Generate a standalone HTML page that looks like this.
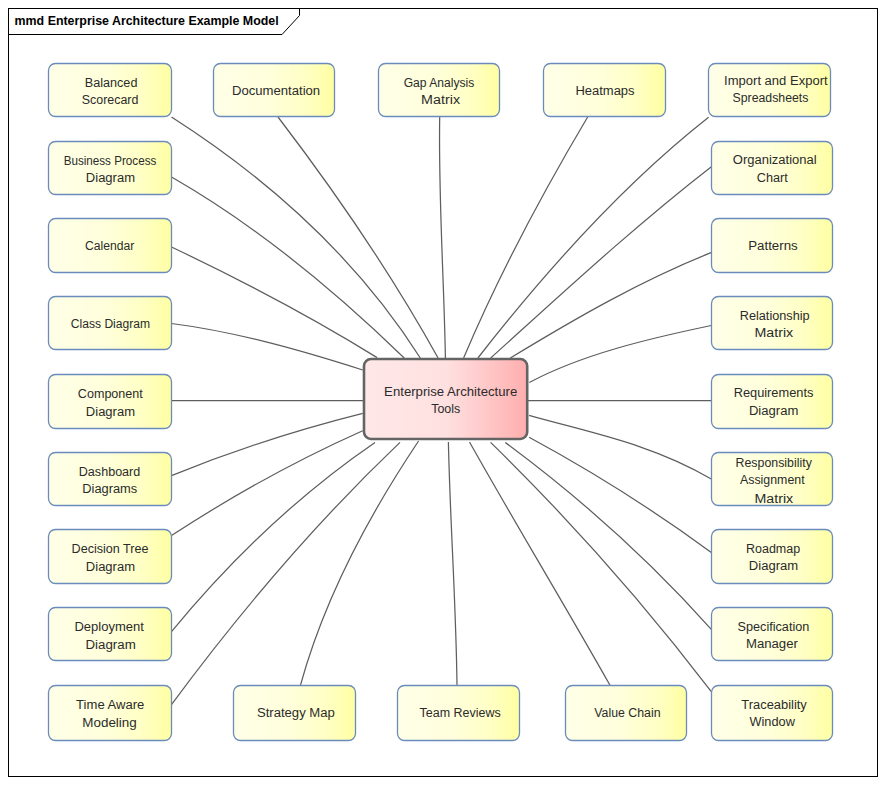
<!DOCTYPE html>
<html><head><meta charset="utf-8"><style>
html,body{margin:0;padding:0;background:#fff;width:886px;height:785px;overflow:hidden}
svg{display:block}
text{font-family:"Liberation Sans",sans-serif}
</style></head><body>
<svg width="886" height="785" viewBox="0 0 886 785">
<defs>
<linearGradient id="gy" x1="0" y1="0" x2="1" y2="0">
<stop offset="0" stop-color="#FFFFE8"/><stop offset="0.45" stop-color="#FFFFDC"/><stop offset="0.75" stop-color="#FFFFC6"/><stop offset="1" stop-color="#FFFFA2"/>
</linearGradient>
<linearGradient id="gr" x1="0" y1="0" x2="1" y2="0">
<stop offset="0" stop-color="#FFE8E8"/><stop offset="0.5" stop-color="#FFE0E0"/><stop offset="0.7" stop-color="#FFCDCD"/><stop offset="1" stop-color="#FFAEAE"/>
</linearGradient>
</defs>
<rect x="0" y="0" width="886" height="785" fill="#fff"/>
<rect x="8.5" y="8.5" width="869" height="768" fill="none" stroke="#000" stroke-width="1"/>
<polyline points="8.5,34.5 282,34.5 299.5,15.5 299.5,8.5" fill="none" stroke="#000" stroke-width="1"/>
<text x="14.58" y="24.80" font-size="12.2" font-weight="bold" fill="#000" textLength="264.09" lengthAdjust="spacingAndGlyphs">mmd Enterprise Architecture Example Model</text>
<g fill="none" stroke="#5E5E5E" stroke-width="1.25">
<path d="M171.5,117.0 C272.1,181.4 359.1,261.7 420.3,358.0"/>
<path d="M171.5,177.0 C258.3,226.7 338.2,293.9 404.2,358.0"/>
<path d="M171.5,247.0 C246.3,282.5 311.9,317.1 377.1,357.6"/>
<path d="M171.5,323.5 C236.2,331.8 300.6,350.2 362.7,370.0"/>
<path d="M171.5,400.5 C235.7,400.5 299.8,400.5 364.0,400.5"/>
<path d="M171.5,475.6 C233.8,450.2 297.9,429.7 362.7,413.4"/>
<path d="M171.5,535.6 C233.0,495.3 296.0,460.4 362.7,430.7"/>
<path d="M171.1,632.1 C230.4,560.2 297.4,495.5 375.0,442.4"/>
<path d="M171.1,705.1 C240.4,611.3 314.6,523.6 400.0,442.4"/>
<path d="M300.4,685.4 C323.8,600.2 369.1,514.9 418.6,441.0"/>
<path d="M278.0,117.0 C339.1,196.9 392.4,275.7 438.1,358.0"/>
<path d="M439.7,116.4 C438.3,197.5 444.0,277.6 445.4,358.0"/>
<path d="M587.8,116.8 C535.6,204.7 497.3,278.4 463.6,358.0"/>
<path d="M708.6,117.3 C622.8,184.7 546.3,270.3 477.9,358.0"/>
<path d="M711.7,166.4 C634.4,226.3 563.2,292.5 490.7,358.0"/>
<path d="M711.6,252.4 C639.8,281.1 574.5,319.0 510.3,358.0"/>
<path d="M711.3,325.5 C649.7,338.4 582.1,354.2 529.3,382.5"/>
<path d="M711.5,400.5 C650.3,400.5 589.2,400.5 528.0,400.5"/>
<path d="M711.3,479.0 C651.3,443.9 591.8,433.1 529.1,415.4"/>
<path d="M711.3,552.4 C653.6,510.1 593.6,472.2 529.1,437.3"/>
<path d="M711.3,629.4 C655.6,566.9 584.9,501.4 505.3,442.5"/>
<path d="M711.3,691.6 C646.6,607.0 572.1,521.9 490.6,442.4"/>
<path d="M457.0,685.5 C456.1,603.8 450.1,523.0 448.4,442.0"/>
<path d="M610.0,685.3 C564.1,604.0 515.7,524.2 469.5,442.0"/>
</g>
<g fill="url(#gy)" stroke="#6A8BBB" stroke-width="1.3">
<rect x="48.5" y="63.5" width="123.0" height="53.0" rx="7" ry="7"/>
<rect x="48.5" y="141.5" width="123.0" height="53.0" rx="7" ry="7"/>
<rect x="48.5" y="218.5" width="123.0" height="54.0" rx="7" ry="7"/>
<rect x="48.5" y="296.5" width="123.0" height="53.0" rx="7" ry="7"/>
<rect x="48.5" y="374.5" width="123.0" height="54.0" rx="7" ry="7"/>
<rect x="48.5" y="452.5" width="123.0" height="53.0" rx="7" ry="7"/>
<rect x="48.5" y="529.5" width="123.0" height="54.0" rx="7" ry="7"/>
<rect x="48.5" y="607.5" width="123.0" height="53.0" rx="7" ry="7"/>
<rect x="48.5" y="685.5" width="123.0" height="55.0" rx="7" ry="7"/>
<rect x="711.5" y="141.5" width="121.0" height="53.0" rx="7" ry="7"/>
<rect x="711.5" y="218.5" width="121.0" height="54.0" rx="7" ry="7"/>
<rect x="711.5" y="296.5" width="121.0" height="53.0" rx="7" ry="7"/>
<rect x="711.5" y="374.5" width="121.0" height="54.0" rx="7" ry="7"/>
<rect x="711.5" y="452.5" width="121.0" height="53.0" rx="7" ry="7"/>
<rect x="711.5" y="529.5" width="121.0" height="54.0" rx="7" ry="7"/>
<rect x="711.5" y="607.5" width="121.0" height="53.0" rx="7" ry="7"/>
<rect x="711.5" y="685.5" width="121.0" height="55.0" rx="7" ry="7"/>
<rect x="213.5" y="63.5" width="121.0" height="53.0" rx="7" ry="7"/>
<rect x="378.5" y="63.5" width="121.0" height="53.0" rx="7" ry="7"/>
<rect x="543.5" y="63.5" width="122.0" height="53.0" rx="7" ry="7"/>
<rect x="708.5" y="63.5" width="122.0" height="53.0" rx="7" ry="7"/>
<rect x="233.5" y="685.5" width="122.0" height="55.0" rx="7" ry="7"/>
<rect x="397.5" y="685.5" width="122.0" height="55.0" rx="7" ry="7"/>
<rect x="565.5" y="685.5" width="121.0" height="55.0" rx="7" ry="7"/>
</g>
<rect x="364" y="359" width="163.2" height="80" rx="7" ry="7" fill="url(#gr)" stroke="#646464" stroke-width="2.6"/>
<text x="84.76" y="86.50" font-size="12.5" fill="#2B2B2B" textLength="52.65" lengthAdjust="spacingAndGlyphs">Balanced</text>
<text x="81.74" y="103.60" font-size="12.5" fill="#2B2B2B" textLength="56.67" lengthAdjust="spacingAndGlyphs">Scorecard</text>
<text x="63.64" y="165.00" font-size="12.5" fill="#2B2B2B" textLength="92.68" lengthAdjust="spacingAndGlyphs">Business Process</text>
<text x="85.83" y="181.70" font-size="12.5" fill="#2B2B2B" textLength="49.23" lengthAdjust="spacingAndGlyphs">Diagram</text>
<text x="85.08" y="249.70" font-size="12.5" fill="#2B2B2B" textLength="49.32" lengthAdjust="spacingAndGlyphs">Calendar</text>
<text x="70.79" y="328.00" font-size="12.5" fill="#2B2B2B" textLength="79.31" lengthAdjust="spacingAndGlyphs">Class Diagram</text>
<text x="77.86" y="397.90" font-size="12.5" fill="#2B2B2B" textLength="64.93" lengthAdjust="spacingAndGlyphs">Component</text>
<text x="85.83" y="415.70" font-size="12.5" fill="#2B2B2B" textLength="49.23" lengthAdjust="spacingAndGlyphs">Diagram</text>
<text x="78.77" y="475.70" font-size="12.5" fill="#2B2B2B" textLength="61.54" lengthAdjust="spacingAndGlyphs">Dashboard</text>
<text x="82.25" y="492.80" font-size="12.5" fill="#2B2B2B" textLength="55.02" lengthAdjust="spacingAndGlyphs">Diagrams</text>
<text x="71.58" y="552.50" font-size="12.5" fill="#2B2B2B" textLength="76.88" lengthAdjust="spacingAndGlyphs">Decision Tree</text>
<text x="85.83" y="570.70" font-size="12.5" fill="#2B2B2B" textLength="49.23" lengthAdjust="spacingAndGlyphs">Diagram</text>
<text x="74.43" y="630.80" font-size="12.5" fill="#2B2B2B" textLength="69.46" lengthAdjust="spacingAndGlyphs">Deployment</text>
<text x="85.51" y="648.60" font-size="12.5" fill="#2B2B2B" textLength="50.27" lengthAdjust="spacingAndGlyphs">Diagram</text>
<text x="76.11" y="708.60" font-size="12.5" fill="#2B2B2B" textLength="68.26" lengthAdjust="spacingAndGlyphs">Time Aware</text>
<text x="82.30" y="726.50" font-size="12.5" fill="#2B2B2B" textLength="54.47" lengthAdjust="spacingAndGlyphs">Modeling</text>
<text x="231.92" y="94.90" font-size="12.5" fill="#2B2B2B" textLength="88.23" lengthAdjust="spacingAndGlyphs">Documentation</text>
<text x="403.70" y="87.00" font-size="12.5" fill="#2B2B2B" textLength="70.64" lengthAdjust="spacingAndGlyphs">Gap Analysis</text>
<text x="421.13" y="103.60" font-size="12.5" fill="#2B2B2B" textLength="38.93" lengthAdjust="spacingAndGlyphs">Matrix</text>
<text x="575.44" y="94.60" font-size="12.5" fill="#2B2B2B" textLength="59.13" lengthAdjust="spacingAndGlyphs">Heatmaps</text>
<text x="724.10" y="84.80" font-size="12.5" fill="#2B2B2B" textLength="103.50" lengthAdjust="spacingAndGlyphs">Import and Export</text>
<text x="732.54" y="102.30" font-size="12.5" fill="#2B2B2B" textLength="75.90" lengthAdjust="spacingAndGlyphs">Spreadsheets</text>
<text x="732.88" y="164.30" font-size="12.5" fill="#2B2B2B" textLength="83.78" lengthAdjust="spacingAndGlyphs">Organizational</text>
<text x="756.86" y="181.50" font-size="12.5" fill="#2B2B2B" textLength="30.94" lengthAdjust="spacingAndGlyphs">Chart</text>
<text x="748.21" y="249.60" font-size="12.5" fill="#2B2B2B" textLength="49.57" lengthAdjust="spacingAndGlyphs">Patterns</text>
<text x="739.76" y="319.70" font-size="12.5" fill="#2B2B2B" textLength="69.87" lengthAdjust="spacingAndGlyphs">Relationship</text>
<text x="754.53" y="337.20" font-size="12.5" fill="#2B2B2B" textLength="38.72" lengthAdjust="spacingAndGlyphs">Matrix</text>
<text x="733.65" y="397.30" font-size="12.5" fill="#2B2B2B" textLength="79.71" lengthAdjust="spacingAndGlyphs">Requirements</text>
<text x="748.93" y="415.20" font-size="12.5" fill="#2B2B2B" textLength="49.44" lengthAdjust="spacingAndGlyphs">Diagram</text>
<text x="735.59" y="466.80" font-size="12.5" fill="#2B2B2B" textLength="76.24" lengthAdjust="spacingAndGlyphs">Responsibility</text>
<text x="739.98" y="484.40" font-size="12.5" fill="#2B2B2B" textLength="64.61" lengthAdjust="spacingAndGlyphs">Assignment</text>
<text x="754.54" y="502.90" font-size="12.5" fill="#2B2B2B" textLength="38.62" lengthAdjust="spacingAndGlyphs">Matrix</text>
<text x="745.98" y="552.90" font-size="12.5" fill="#2B2B2B" textLength="54.15" lengthAdjust="spacingAndGlyphs">Roadmap</text>
<text x="748.83" y="570.40" font-size="12.5" fill="#2B2B2B" textLength="49.33" lengthAdjust="spacingAndGlyphs">Diagram</text>
<text x="737.52" y="630.70" font-size="12.5" fill="#2B2B2B" textLength="71.80" lengthAdjust="spacingAndGlyphs">Specification</text>
<text x="745.92" y="648.20" font-size="12.5" fill="#2B2B2B" textLength="52.00" lengthAdjust="spacingAndGlyphs">Manager</text>
<text x="741.31" y="708.60" font-size="12.5" fill="#2B2B2B" textLength="65.51" lengthAdjust="spacingAndGlyphs">Traceability</text>
<text x="749.44" y="726.00" font-size="12.5" fill="#2B2B2B" textLength="45.42" lengthAdjust="spacingAndGlyphs">Window</text>
<text x="256.90" y="716.90" font-size="12.5" fill="#2B2B2B" textLength="77.95" lengthAdjust="spacingAndGlyphs">Strategy Map</text>
<text x="419.52" y="716.90" font-size="12.5" fill="#2B2B2B" textLength="81.12" lengthAdjust="spacingAndGlyphs">Team Reviews</text>
<text x="594.25" y="717.00" font-size="12.5" fill="#2B2B2B" textLength="66.34" lengthAdjust="spacingAndGlyphs">Value Chain</text>
<text x="384.13" y="395.80" font-size="12.5" fill="#2B2B2B" textLength="133.16" lengthAdjust="spacingAndGlyphs">Enterprise Architecture</text>
<text x="431.23" y="413.30" font-size="12.5" fill="#2B2B2B" textLength="28.99" lengthAdjust="spacingAndGlyphs">Tools</text>
</svg>
</body></html>
